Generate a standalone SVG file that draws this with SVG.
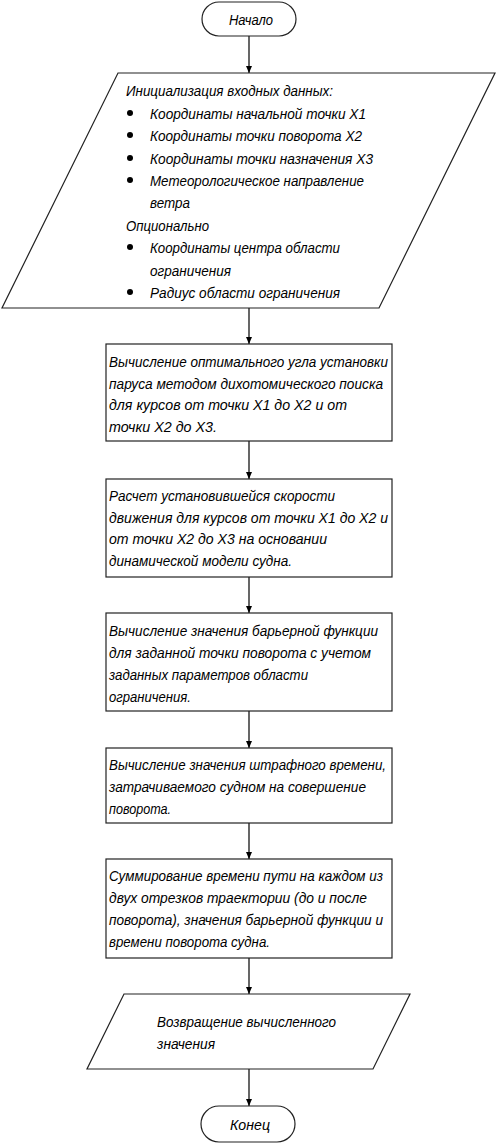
<svg xmlns="http://www.w3.org/2000/svg" width="497" height="1144" viewBox="0 0 497 1144">
<style>
.s{fill:#fff;stroke:#222;stroke-width:1.2}
.t{font-family:"Liberation Sans",Arial,sans-serif;font-style:italic;font-size:14px;fill:#000}
.c{stroke:#000;stroke-width:1.2;fill:none}
.b{fill:#000}
</style>
<defs>
<marker id="ah" markerWidth="8" markerHeight="8" refX="7" refY="4" orient="auto" markerUnits="userSpaceOnUse">
<path d="M0,1 L7,4 L0,7 Z" fill="#000"/>
</marker>
</defs>
<g id="connectors">
<line class="c" x1="249" y1="36" x2="249" y2="73" marker-end="url(#ah)"/>
<line class="c" x1="249" y1="308" x2="249" y2="344" marker-end="url(#ah)"/>
<line class="c" x1="249" y1="441" x2="249" y2="479" marker-end="url(#ah)"/>
<line class="c" x1="249" y1="577" x2="249" y2="613" marker-end="url(#ah)"/>
<line class="c" x1="249" y1="711" x2="249" y2="748" marker-end="url(#ah)"/>
<line class="c" x1="249" y1="823" x2="249" y2="859" marker-end="url(#ah)"/>
<line class="c" x1="249" y1="958" x2="249" y2="994" marker-end="url(#ah)"/>
<line class="c" x1="249" y1="1069" x2="249" y2="1106" marker-end="url(#ah)"/>
</g>
<g id="start">
<rect class="s" x="202" y="2" width="94" height="34" rx="17"/>
<text class="t" x="229" y="25" textLength="44" lengthAdjust="spacingAndGlyphs">Начало</text>
</g>
<g id="input">
<polygon class="s" points="118,73 495,73 379,308 2,308"/>
<text class="t" x="126" y="96" textLength="207" lengthAdjust="spacingAndGlyphs">Инициализация входных данных:</text>
<circle class="b" cx="130" cy="113" r="3"/>
<text class="t" x="150" y="119" textLength="216" lengthAdjust="spacingAndGlyphs">Координаты начальной точки X1</text>
<circle class="b" cx="130" cy="135" r="3"/>
<text class="t" x="150" y="141" textLength="212" lengthAdjust="spacingAndGlyphs">Координаты точки поворота X2</text>
<circle class="b" cx="130" cy="158" r="3"/>
<text class="t" x="150" y="164" textLength="223" lengthAdjust="spacingAndGlyphs">Координаты точки назначения X3</text>
<circle class="b" cx="130" cy="180" r="3"/>
<text class="t" x="150" y="186" textLength="214" lengthAdjust="spacingAndGlyphs">Метеорологическое направление</text>
<text class="t" x="150" y="208" textLength="40" lengthAdjust="spacingAndGlyphs">ветра</text>
<text class="t" x="126" y="231" textLength="83" lengthAdjust="spacingAndGlyphs">Опционально</text>
<circle class="b" cx="130" cy="247" r="3"/>
<text class="t" x="150" y="253" textLength="190" lengthAdjust="spacingAndGlyphs">Координаты центра области</text>
<text class="t" x="150" y="276" textLength="81" lengthAdjust="spacingAndGlyphs">ограничения</text>
<circle class="b" cx="130" cy="292" r="3"/>
<text class="t" x="150" y="298" textLength="190" lengthAdjust="spacingAndGlyphs">Радиус области ограничения</text>
</g>
<g id="step1">
<rect class="s" x="106" y="344" width="286" height="97"/>
<text class="t" x="109" y="367" textLength="279" lengthAdjust="spacingAndGlyphs">Вычисление оптимального угла установки</text>
<text class="t" x="109" y="388.5" textLength="274" lengthAdjust="spacingAndGlyphs">паруса методом дихотомического поиска</text>
<text class="t" x="109" y="410" textLength="238" lengthAdjust="spacingAndGlyphs">для курсов от точки X1 до X2 и от</text>
<text class="t" x="109" y="431.5" textLength="108" lengthAdjust="spacingAndGlyphs">точки X2 до X3.</text>
</g>
<g id="step2">
<rect class="s" x="106" y="479" width="286" height="98"/>
<text class="t" x="109" y="501" textLength="226" lengthAdjust="spacingAndGlyphs">Расчет установившейся скорости</text>
<text class="t" x="109" y="522.7" textLength="279" lengthAdjust="spacingAndGlyphs">движения для курсов от точки X1 до X2 и</text>
<text class="t" x="109" y="544.4" textLength="218" lengthAdjust="spacingAndGlyphs">от точки X2 до X3 на основании</text>
<text class="t" x="109" y="566" textLength="183" lengthAdjust="spacingAndGlyphs">динамической модели судна.</text>
</g>
<g id="step3">
<rect class="s" x="106" y="613" width="286" height="98"/>
<text class="t" x="109" y="636" textLength="269" lengthAdjust="spacingAndGlyphs">Вычисление значения барьерной функции</text>
<text class="t" x="109" y="658" textLength="262" lengthAdjust="spacingAndGlyphs">для заданной точки поворота с учетом</text>
<text class="t" x="109" y="680" textLength="199" lengthAdjust="spacingAndGlyphs">заданных параметров области</text>
<text class="t" x="109" y="702" textLength="82" lengthAdjust="spacingAndGlyphs">ограничения.</text>
</g>
<g id="step4">
<rect class="s" x="106" y="748" width="286" height="75"/>
<text class="t" x="109" y="769.5" textLength="277" lengthAdjust="spacingAndGlyphs">Вычисление значения штрафного времени,</text>
<text class="t" x="109" y="791.8" textLength="257" lengthAdjust="spacingAndGlyphs">затрачиваемого судном на совершение</text>
<text class="t" x="109" y="814" textLength="62" lengthAdjust="spacingAndGlyphs">поворота.</text>
</g>
<g id="step5">
<rect class="s" x="106" y="859" width="286" height="99"/>
<text class="t" x="109" y="881" textLength="274" lengthAdjust="spacingAndGlyphs">Суммирование времени пути на каждом из</text>
<text class="t" x="109" y="903" textLength="258" lengthAdjust="spacingAndGlyphs">двух отрезков траектории (до и после</text>
<text class="t" x="109" y="925" textLength="274" lengthAdjust="spacingAndGlyphs">поворота), значения барьерной функции и</text>
<text class="t" x="109" y="947" textLength="161" lengthAdjust="spacingAndGlyphs">времени поворота судна.</text>
</g>
<g id="output">
<polygon class="s" points="124,994 410,994 373,1069 87,1069"/>
<text class="t" x="157" y="1027" textLength="179" lengthAdjust="spacingAndGlyphs">Возвращение вычисленного</text>
<text class="t" x="157" y="1048.5" textLength="58" lengthAdjust="spacingAndGlyphs">значения</text>
</g>
<g id="end">
<rect class="s" x="201" y="1106" width="94" height="36" rx="18"/>
<text class="t" x="230" y="1130" textLength="40" lengthAdjust="spacingAndGlyphs">Конец</text>
</g>
</svg>
